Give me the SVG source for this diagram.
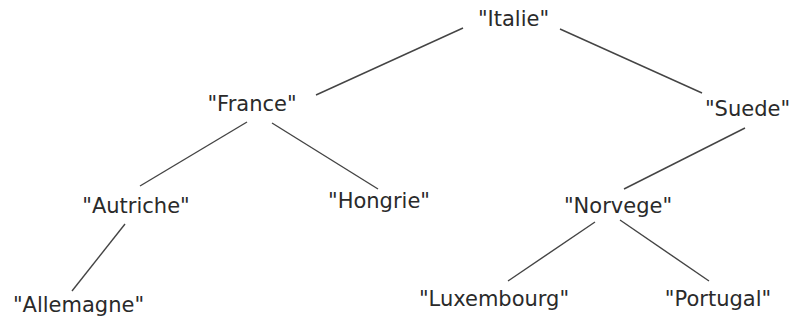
<svg xmlns="http://www.w3.org/2000/svg" width="792" height="322" viewBox="0 0 792 322">
<style>
  text { font-family: "DejaVu Sans", Verdana, sans-serif; font-size: 21px; fill: #2a2a2a; text-anchor: middle; }
  line { stroke: #444; stroke-width: 1.4; }
</style>
<rect width="792" height="322" fill="#ffffff"/>
<g id="connectors">
  <line x1="463" y1="28" x2="316" y2="95"/>
  <line x1="560" y1="29" x2="702" y2="93"/>
  <line x1="247" y1="122" x2="140" y2="186"/>
  <line x1="272" y1="123" x2="378" y2="189"/>
  <line x1="745" y1="128" x2="624" y2="189"/>
  <line x1="125" y1="224" x2="72" y2="291"/>
  <line x1="595" y1="222" x2="508" y2="281"/>
  <line x1="620" y1="220" x2="709" y2="281"/>
</g>
<g id="italie"><text x="513.5" y="26">"Italie"</text></g>
<g id="france"><text x="252" y="111">"France"</text></g>
<g id="suede"><text x="747.5" y="116">"Suede"</text></g>
<g id="autriche"><text x="136" y="213">"Autriche"</text></g>
<g id="hongrie"><text x="379" y="208">"Hongrie"</text></g>
<g id="norvege"><text x="618" y="213">"Norvege"</text></g>
<g id="allemagne"><text x="78.5" y="312">"Allemagne"</text></g>
<g id="luxembourg"><text x="494" y="306">"Luxembourg"</text></g>
<g id="portugal"><text x="718" y="306">"Portugal"</text></g>
</svg>
